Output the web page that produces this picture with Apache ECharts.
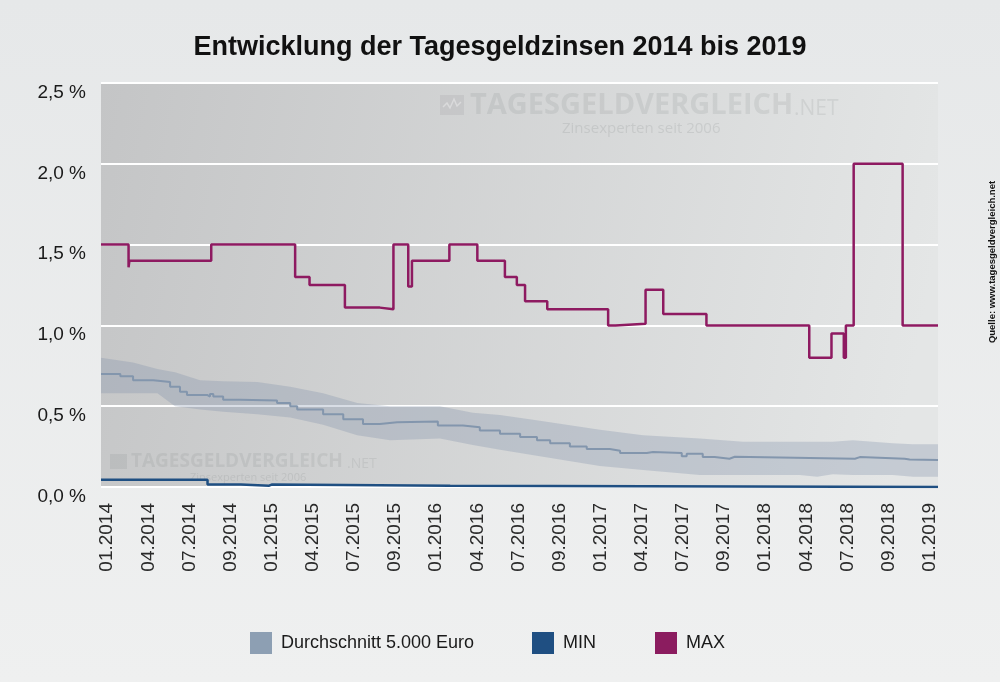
<!DOCTYPE html>
<html>
<head>
<meta charset="utf-8">
<script src="https://cdn.jsdelivr.net/npm/echarts@6/dist/echarts.min.js"></script>
<style>
html,body{margin:0;padding:0;width:1000px;height:682px;overflow:hidden;}
#c{width:1000px;height:682px;}
</style>
</head>
<body>
<div id="c"></div>
<script>
// x-axis tick labels (evenly spaced categories)
const xLabels = ['01.2014','04.2014','07.2014','09.2014','01.2015','04.2015','07.2015','09.2015','01.2016','04.2016','07.2016','09.2016','01.2017','04.2017','07.2017','09.2017','01.2018','04.2018','07.2018','09.2018','01.2019'];
const yTicks = [0, 0.5, 1.0, 1.5, 2.0, 2.5];

// MAX (step changes: position in label-index units, value in %)
const maxX = [-0.15, 0.52, 0.54, 2.53, 4.57, 4.92, 5.78, 6.63, 6.96, 7.32, 7.41, 8.32, 9.00, 9.67, 9.96, 10.16, 10.70, 12.18, 12.36, 13.09, 13.52, 14.57, 17.07, 17.61, 17.91, 17.96, 18.15, 19.34, 20.2];
const maxV = [1.50, 1.36, 1.40, 1.50, 1.30, 1.25, 1.11, 1.10, 1.50, 1.24, 1.40, 1.50, 1.40, 1.30, 1.25, 1.15, 1.10, 1.00, 1.01, 1.22, 1.07, 1.00, 0.80, 0.95, 0.80, 1.00, 2.00, 1.00, 1.00];

// MIN
const minX = [-0.15, 2.44, 3.25, 3.94, 4.00, 8.34, 20.2];
const minV = [0.045, 0.015, 0.008, 0.015, 0.008, 0.0, 0.0];

// Durchschnitt 5.000 Euro
const avgX = [-0.15, 0.32, 0.63, 1.12, 1.53, 1.77, 1.94, 2.43, 2.50, 2.58, 2.82, 3.23, 4.13, 4.45, 4.62, 5.25, 5.74, 6.22, 6.63, 7.05, 8.04, 8.65, 9.06, 9.55, 10.04, 10.45, 10.77, 11.25, 11.66, 12.22, 12.47, 13.12, 13.27, 13.97, 14.09, 14.48, 14.77, 15.13, 15.26, 18.18, 18.30, 19.39, 19.51, 20.2];
const avgV = [0.70, 0.685, 0.66, 0.65, 0.62, 0.59, 0.57, 0.56, 0.575, 0.56, 0.54, 0.535, 0.52, 0.50, 0.48, 0.45, 0.42, 0.39, 0.40, 0.405, 0.38, 0.37, 0.35, 0.33, 0.31, 0.29, 0.27, 0.25, 0.235, 0.225, 0.21, 0.217, 0.21, 0.19, 0.205, 0.185, 0.175, 0.187, 0.175, 0.185, 0.175, 0.17, 0.167, 0.167];

// spread band around the average
const bandX = [-0.15, 0.63, 1.22, 1.65, 2.26, 2.82, 3.65, 4.45, 5.25, 6.08, 6.88, 8.09, 8.89, 9.55, 10.52, 11.98, 13.03, 14.41, 15.46, 16.84, 17.26, 17.64, 18.13, 19.10, 19.59, 20.2];
const bandHigh = [0.80, 0.77, 0.73, 0.71, 0.66, 0.655, 0.65, 0.62, 0.58, 0.52, 0.50, 0.50, 0.46, 0.445, 0.41, 0.355, 0.32, 0.30, 0.28, 0.28, 0.28, 0.28, 0.29, 0.27, 0.265, 0.264];
const bandLow = [0.58, 0.58, 0.58, 0.50, 0.48, 0.465, 0.45, 0.43, 0.385, 0.32, 0.29, 0.30, 0.26, 0.23, 0.19, 0.13, 0.105, 0.075, 0.074, 0.074, 0.064, 0.079, 0.075, 0.074, 0.064, 0.064];

const zip = (xs, ys) => xs.map((x, i) => [x, ys[i]]);
const font = 'Liberation Sans, Arial, sans-serif';

const chart = echarts.init(document.getElementById('c'), null, {renderer: 'canvas'});
chart.setOption({
  animation: false,
  backgroundColor: {type:'linear', x:0, y:0, x2:0, y2:1, colorStops:[{offset:0,color:'#e6e8e9'},{offset:1,color:'#eff0f0'}]},
  title: {
    text: 'Entwicklung der Tagesgeldzinsen 2014 bis 2019',
    left: 'center', top: 29,
    textStyle: {fontFamily: font, fontSize: 27, fontWeight: 'bold', color: '#111'}
  },
  legend: [
    {data: ['Durchschnitt 5.000 Euro'], left: 245, top: 627, icon: 'rect', itemWidth: 22, itemHeight: 22, itemGap: 14,
     textStyle: {fontFamily: font, fontSize: 18, color: '#1a1a1a', padding:[0,0,0,4]}},
    {data: ['MIN'], left: 527, top: 627, icon: 'rect', itemWidth: 22, itemHeight: 22,
     textStyle: {fontFamily: font, fontSize: 18, color: '#1a1a1a', padding:[0,0,0,4]}},
    {data: ['MAX'], left: 650, top: 627, icon: 'rect', itemWidth: 22, itemHeight: 22,
     textStyle: {fontFamily: font, fontSize: 18, color: '#1a1a1a', padding:[0,0,0,4]}}
  ],
  grid: {
    left: 101, right: 62, top: 83, bottom: 195, show: true, borderWidth: 0,
    backgroundColor: {type:'linear', x:0, y:0, x2:1, y2:0.4, colorStops:[{offset:0,color:'#c4c5c6'},{offset:1,color:'#e4e6e6'}]}
  },
  xAxis: {
    type: 'value', min: -0.15, max: 20.2,
    axisLine: {show: false}, axisTick: {show: false}, splitLine: {show: false},
    axisLabel: {
      customValues: xLabels.map((_, i) => i),
      formatter: v => xLabels[Math.round(v)] || '',
      rotate: 90, margin: 16, fontFamily: font, fontSize: 19, color: '#2a2a2a'
    }
  },
  yAxis: {
    type: 'value', min: 0, max: 2.5, interval: 0.5,
    axisLine: {show: false}, axisTick: {show: false},
    splitLine: {show: true, lineStyle: {color: '#ffffff', width: 2}},
    axisLabel: {
      formatter: v => v.toFixed(1).replace('.', ',') + ' %',
      verticalAlign: 'top', margin: 15, fontFamily: font, fontSize: 19, color: '#1a1a1a'
    }
  },
  graphic: [
    {type:'group', left: 440, top: 91, z: 1, silent: true, children: [
      {type:'rect', shape:{x:0,y:4,width:24,height:20}, style:{fill:'rgba(120,125,130,0.13)'}},
      {type:'polyline', shape:{points:[[3,16],[7,12],[10,17],[14,8],[17,15],[21,11]]}, style:{stroke:'rgba(255,255,255,0.35)', lineWidth:1.5, fill:null}},
      {type:'text', style:{x:30, y:0, text:'TAGESGELDVERGLEICH', font:'bold 29px "Open Sans", sans-serif', fill:'rgba(120,125,130,0.15)'}},
      {type:'text', style:{x:354, y:8, text:'.NET', font:'21px "Open Sans", sans-serif', fill:'rgba(120,125,130,0.15)'}}
    ]},
    {type:'text', left: 562, top: 121, z: 1, silent: true, style:{text:'Zinsexperten seit 2006', font:'15px "Open Sans", sans-serif', fill:'rgba(120,125,130,0.18)'}},
    {type:'group', left: 110, top: 452, z: 1, silent: true, children: [
      {type:'rect', shape:{x:0,y:2,width:17,height:15}, style:{fill:'rgba(120,125,130,0.15)'}},
      {type:'text', style:{x:21, y:0, text:'TAGESGELDVERGLEICH', font:'bold 19px "Open Sans", sans-serif', fill:'rgba(120,125,130,0.15)'}},
      {type:'text', style:{x:237, y:5, text:'.NET', font:'14px "Open Sans", sans-serif', fill:'rgba(120,125,130,0.15)'}}
    ]},
    {type:'text', left: 190, top: 472, z: 1, silent: true, style:{text:'Zinsexperten seit 2006', font:'11px "Open Sans", sans-serif', fill:'rgba(120,125,130,0.18)'}},
    {type:'text', x: 992, y: 262, rotation: Math.PI/2, z: 5, silent: true,
     style:{text:'Quelle: www.tagesgeldvergleich.net', font:'bold 9.5px "Liberation Sans", Arial, sans-serif', fill:'#111', align:'center', verticalAlign:'middle'}}
  ],
  series: [
    {name: 'band', type: 'custom', silent: true, z: 2,
     data: bandX.map((x, i) => [x, bandLow[i], bandHigh[i]]),
     encode: {x: 0, y: [1, 2]},
     renderItem: function (params, api) {
       if (params.dataIndex !== 0) return null;
       const top = bandX.map((x, i) => api.coord([x, bandHigh[i]]));
       const bot = bandX.map((x, i) => api.coord([x, bandLow[i]])).reverse();
       return {type: 'polygon', shape: {points: top.concat(bot)}, style: {fill: 'rgba(125,142,170,0.3)'}};
     }},
    {name: 'Durchschnitt 5.000 Euro', type: 'line', step: 'end', data: zip(avgX, avgV), symbol: 'none',
     itemStyle: {color: '#8d9fb3'}, lineStyle: {color: '#8396ad', width: 2}, z: 3},
    {name: 'MIN', type: 'line', step: 'end', data: zip(minX, minV), symbol: 'none',
     itemStyle: {color: '#1f4f82'}, lineStyle: {color: '#1f4f82', width: 2.5}, z: 4},
    {name: 'MAX', type: 'line', step: 'end', data: zip(maxX, maxV), symbol: 'none',
     itemStyle: {color: '#8b1c5f'}, lineStyle: {color: '#8e1a61', width: 2.5}, z: 5}
  ]
});
</script>
</body>
</html>
